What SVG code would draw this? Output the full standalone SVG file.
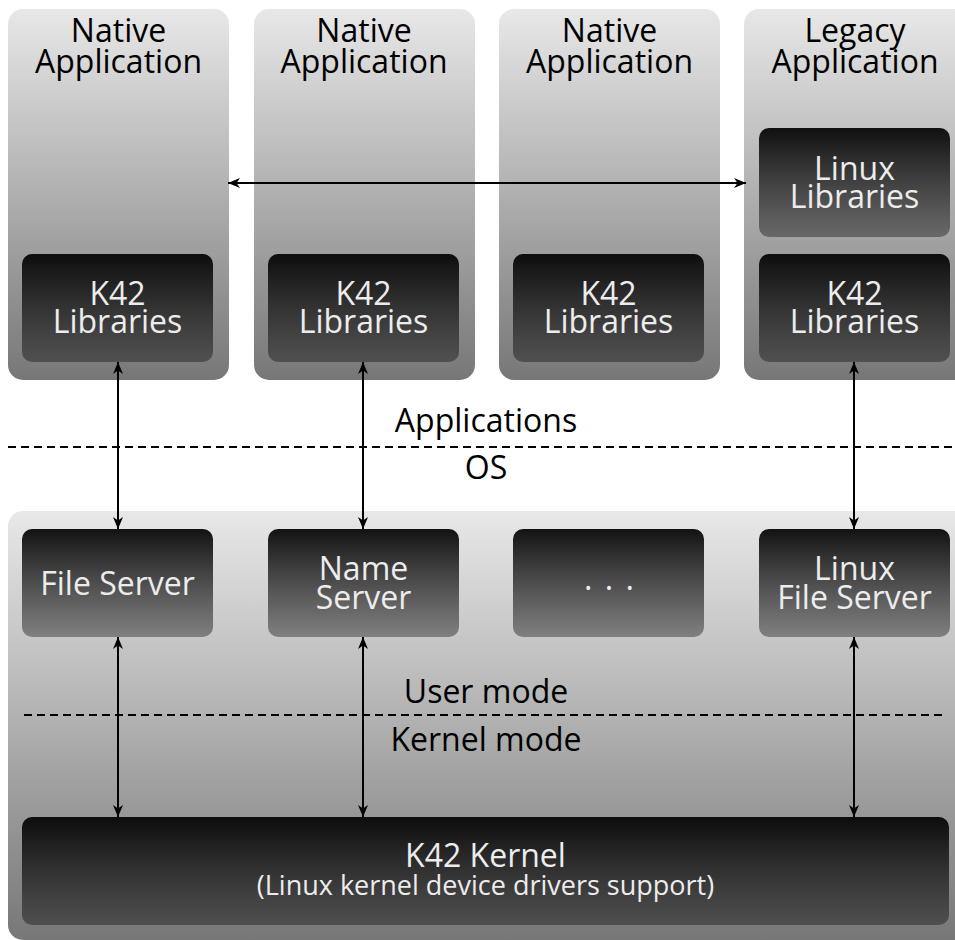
<svg xmlns="http://www.w3.org/2000/svg" width="955" height="940" viewBox="0 0 955 940">
  <defs>
    <linearGradient id="gPanel" x1="0" y1="0" x2="0" y2="1">
      <stop offset="0" stop-color="#e8e8e8"/>
      <stop offset="1" stop-color="#777777"/>
    </linearGradient>
    <linearGradient id="gBox" x1="0" y1="0" x2="0" y2="1">
      <stop offset="0" stop-color="#000" stop-opacity="0.92"/>
      <stop offset="1" stop-color="#000" stop-opacity="0.36"/>
    </linearGradient>
    <marker id="ah" viewBox="0 0 12 10" refX="12" refY="5" markerWidth="12" markerHeight="10" markerUnits="userSpaceOnUse" orient="auto-start-reverse">
      <path d="M0,0 L12,5 L0,10 L3.5,5 Z" fill="#000"/>
    </marker>
  </defs>
  <style>
    .panel { fill: url(#gPanel); }
    .box { fill: url(#gBox); }
    text { font-family: "Open Sans", "Liberation Sans", sans-serif; font-size: 32px; text-anchor: middle; }
    .dark { fill: #000; }
    .light { fill: #ececec; }
    .sub { font-size: 27px; }
    .conn { stroke: #000; stroke-width: 2; fill: none; marker-start: url(#ah); marker-end: url(#ah); }
    .dash { stroke: #000; stroke-width: 2; fill: none; stroke-dasharray: 8 5; }
  </style>

  <!-- Application panels -->
  <g id="app1">
    <rect class="panel" x="8" y="9" width="221" height="371" rx="15"/>
    <text class="dark" x="118.5"><tspan x="118.5" y="42">Native</tspan><tspan x="118.5" y="73">Application</tspan></text>
  </g>
  <g id="app2">
    <rect class="panel" x="254" y="9" width="221" height="371" rx="15"/>
    <text class="dark"><tspan x="364" y="42">Native</tspan><tspan x="364" y="73">Application</tspan></text>
  </g>
  <g id="app3">
    <rect class="panel" x="499" y="9" width="221" height="371" rx="15"/>
    <text class="dark"><tspan x="609.5" y="42">Native</tspan><tspan x="609.5" y="73">Application</tspan></text>
  </g>
  <g id="app4">
    <rect class="panel" x="744" y="9" width="225" height="371" rx="15"/>
    <text class="dark"><tspan x="855" y="42">Legacy</tspan><tspan x="855" y="73">Application</tspan></text>
  </g>

  <!-- Libraries -->
  <g id="k42lib1">
    <rect class="box" x="22" y="254" width="191" height="108" rx="10"/>
    <text class="light"><tspan x="117.5" y="305">K42</tspan><tspan x="117.5" y="333">Libraries</tspan></text>
  </g>
  <g id="k42lib2">
    <rect class="box" x="268" y="254" width="191" height="108" rx="10"/>
    <text class="light"><tspan x="363.5" y="305">K42</tspan><tspan x="363.5" y="333">Libraries</tspan></text>
  </g>
  <g id="k42lib3">
    <rect class="box" x="513" y="254" width="191" height="108" rx="10"/>
    <text class="light"><tspan x="608.5" y="305">K42</tspan><tspan x="608.5" y="333">Libraries</tspan></text>
  </g>
  <g id="linuxlib">
    <rect class="box" x="759" y="128" width="191" height="109" rx="10"/>
    <text class="light"><tspan x="854.5" y="180">Linux</tspan><tspan x="854.5" y="208">Libraries</tspan></text>
  </g>
  <g id="k42lib4">
    <rect class="box" x="759" y="254" width="191" height="108" rx="10"/>
    <text class="light"><tspan x="854.5" y="305">K42</tspan><tspan x="854.5" y="333">Libraries</tspan></text>
  </g>

  <!-- Layer labels -->
  <g id="layer-apps-os">
    <text class="dark" x="486" y="432">Applications</text>
    <text class="dark" x="486" y="479">OS</text>
  </g>

  <!-- OS panel -->
  <g id="os">
    <rect class="panel" x="8" y="511" width="962" height="429" rx="15"/>
  </g>

  <g id="fileserver">
    <rect class="box" x="22" y="529" width="191" height="108" rx="10"/>
    <text class="light" x="117.5" y="595">File Server</text>
  </g>
  <g id="nameserver">
    <rect class="box" x="268" y="529" width="191" height="108" rx="10"/>
    <text class="light"><tspan x="363.5" y="580">Name</tspan><tspan x="363.5" y="609">Server</tspan></text>
  </g>
  <g id="more">
    <rect class="box" x="513" y="529" width="191" height="108" rx="10"/>
    <text class="light" x="610" y="590" letter-spacing="2">. . .</text>
  </g>
  <g id="linuxfileserver">
    <rect class="box" x="759" y="529" width="191" height="108" rx="10"/>
    <text class="light"><tspan x="854.5" y="580">Linux</tspan><tspan x="854.5" y="609">File Server</tspan></text>
  </g>

  <g id="layer-user-kernel">
    <text class="dark" x="486" y="703">User mode</text>
    <text class="dark" x="486" y="751">Kernel mode</text>
  </g>

  <g id="kernel">
    <rect class="box" x="22" y="817" width="927" height="108" rx="10"/>
    <text class="light" x="485.5" y="867">K42 Kernel</text>
    <text class="light sub" x="485.5" y="895">(Linux kernel device drivers support)</text>
  </g>

  <!-- Connectors -->
  <g id="connectors">
    <line class="dash" x1="8" y1="447" x2="955" y2="447"/>
    <line class="dash" x1="24" y1="715" x2="942" y2="715"/>
    <line class="conn" x1="228" y1="183" x2="746" y2="183"/>
    <line class="conn" x1="118" y1="362" x2="118" y2="529"/>
    <line class="conn" x1="363" y1="362" x2="363" y2="529"/>
    <line class="conn" x1="854" y1="362" x2="854" y2="529"/>
    <line class="conn" x1="118" y1="637" x2="118" y2="817"/>
    <line class="conn" x1="363" y1="637" x2="363" y2="817"/>
    <line class="conn" x1="854" y1="637" x2="854" y2="817"/>
  </g>
</svg>
